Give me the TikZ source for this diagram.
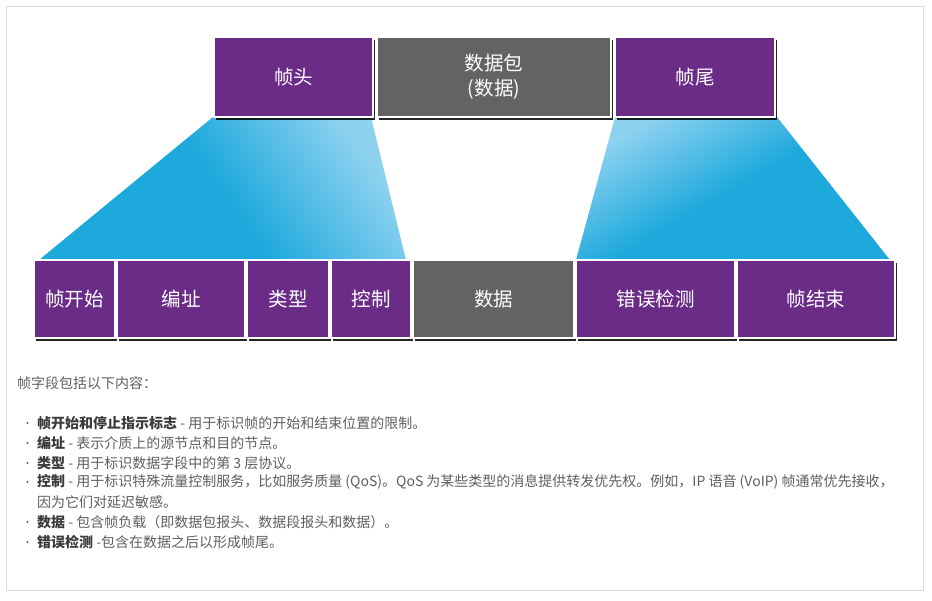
\documentclass[tikz,border=0pt]{standalone}
\usepackage{fontspec}
\setmainfont{Noto Sans CJK SC}
\usetikzlibrary{shadows,backgrounds}
\definecolor{fpurple}{HTML}{6A2C87}
\definecolor{fgray}{HTML}{656263}
\definecolor{blight}{HTML}{8ED2F0}
\definecolor{bdark}{HTML}{1EA9DD}
\definecolor{txt}{HTML}{5E5E5E}
\definecolor{txtb}{HTML}{3A3A3A}
\definecolor{frame}{HTML}{DCDCDC}
\begin{document}
\begin{tikzpicture}[x=1pt,y=-1pt,
  cell/.style={draw=black!18, double=white, double distance=2pt, line width=0.4pt,
    fill=#1, inner sep=0pt, outer sep=0pt, text=white,
    font=\fontsize{19.5}{25}\selectfont, align=center,
    drop shadow={shadow xshift=1.5pt, shadow yshift=-3.5pt, opacity=0.85, fill=black}},
  body/.style={anchor=west, inner sep=0pt, text=txt, font=\fontsize{14}{16}\selectfont},
  bul/.style={fill=txt},
]
\useasboundingbox (0,0) rectangle (932,601);
\draw[frame, line width=1pt] (6.5,7) rectangle (923,590);

% top row
\node[cell=fpurple, minimum width=159, minimum height=80] (hdr) at (293.5,77) {帧头};
\node[cell=fgray,   minimum width=234, minimum height=80] (pkt) at (494,77) {数据包\\(数据)};
\node[cell=fpurple, minimum width=160, minimum height=80] (trl) at (695,77) {帧尾};

% bottom row
\node[cell=fpurple, minimum width=81,  minimum height=78] (sof) at (74.5,299) {帧开始};
\node[cell=fpurple, minimum width=128, minimum height=78] (adr) at (181,299) {编址};
\node[cell=fpurple, minimum width=82,  minimum height=78] (typ) at (288,299) {类型};
\node[cell=fpurple, minimum width=80,  minimum height=78] (ctl) at (371,299) {控制};
\node[cell=fgray,   minimum width=161, minimum height=78] (dat) at (493.5,299) {数据};
\node[cell=fpurple, minimum width=159, minimum height=78] (err) at (655.5,299) {错误检测};
\node[cell=fpurple, minimum width=158, minimum height=78] (eof) at (816,299) {帧结束};

% funnels
\begin{scope}[on background layer]
  \shade[top color=blight, bottom color=bdark, middle color=bdark, shading angle=-55]
    ([xshift=-1pt]hdr.south west) -- ([xshift=-2pt]hdr.south east)
    -- ([xshift=-5pt]ctl.north east) -- ([xshift=5pt]sof.north west) -- cycle;
  \shade[top color=blight, bottom color=bdark, middle color=bdark, shading angle=30]
    (trl.south west) -- ([xshift=2pt]trl.south east)
    -- ([xshift=-5pt]eof.north east) -- (err.north west) -- cycle;
\end{scope}

% text
\node[body] (intro) at (17,383) {帧字段包括以下内容：};
\foreach \y in {423,443,463,482,522,542} \fill[bul] (27.5,\y) circle (1.2);
\node[body] (l1) at (37,423) {{\color{txtb}\bfseries 帧开始和停止指示标志} - 用于标识帧的开始和结束位置的限制。};
\node[body] (l2) at (37,443) {{\color{txtb}\bfseries 编址} - 表示介质上的源节点和目的节点。};
\node[body] (l3) at (37,463) {{\color{txtb}\bfseries 类型} - 用于标识数据字段中的第 3 层协议。};
\node[body] (l4) at (37,482) {{\color{txtb}\bfseries 控制} - 用于标识特殊流量控制服务，比如服务质量 (QoS)。QoS 为某些类型的消息提供转发优先权。例如，IP 语音 (VoIP) 帧通常优先接收，};
\node[body] (l4b) at (37,502) {因为它们对延迟敏感。};
\node[body] (l5) at (37,522) {{\color{txtb}\bfseries 数据} - 包含帧负载（即数据包报头、数据段报头和数据）。};
\node[body] (l6) at (37,542) {{\color{txtb}\bfseries 错误检测} -包含在数据之后以形成帧尾。};
\end{tikzpicture}
\end{document}
